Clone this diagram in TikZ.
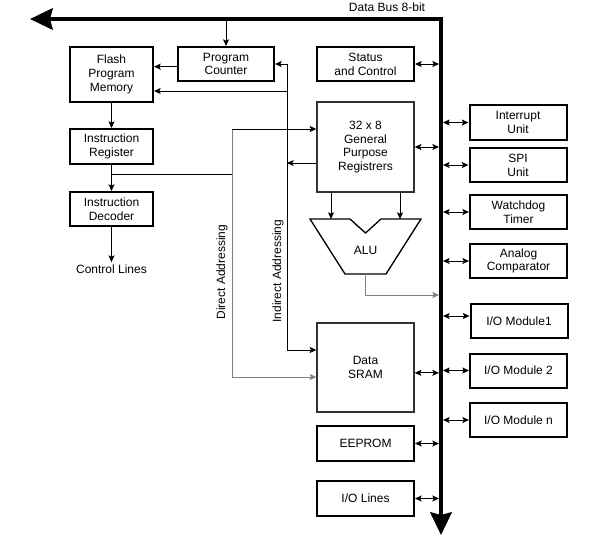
\documentclass[tikz,border=0pt]{standalone}
\usepackage{fontspec}
\setmainfont{Liberation Sans}
\usetikzlibrary{arrows.meta}

\tikzset{every picture/.style={line width=0.75pt}}
\tikzset{
  every node/.style={font=\fontsize{9}{10.3}\selectfont},
  blk/.style={draw, line width=1.5pt, inner sep=0pt, align=center, minimum width=72.75pt, minimum height=25.5pt},
  lblk/.style={blk, minimum width=62.25pt},
  regblk/.style={draw=black!80, line width=1pt, inner sep=0pt, align=center, minimum width=72.75pt},
  tip/.tip={Stealth[length=5pt,width=4.5pt,inset=1pt]},
  arr/.style={-tip},
  biarr/.style={tip-tip},
  gline/.style={draw=black!50},
  garr/.style={gline, -tip},
  bus/.style={line width=3pt, line join=miter, {Stealth[length=17pt,width=16pt,inset=2pt]}-{Stealth[length=17pt,width=16pt,inset=2pt]}}
}

\begin{document}
\begin{tikzpicture}[x=0.75pt,y=0.75pt,yscale=-1]
	\useasboundingbox (0,0) rectangle (591,544);

	%Data bus
	\coordinate (busL) at (30,19);
	\coordinate (busC) at (441,19);
	\coordinate (busB) at (441,535);
	\coordinate (busLE) at (439,19);
	\coordinate (busRE) at (443,19);
	\draw [bus] (busL) -- (busC) -- (busB);
	% Text Node
	\node (busLbl) at (387,7) {Data Bus 8-bit};

	%Left column
	\node [lblk, minimum height=41.25pt] (flash) at (111.5,74.5) {Flash\\Program\\Memory};
	\node [blk, minimum width=72pt] (pc) at (226,64) {Program\\Counter};
	\node [lblk, minimum height=26.25pt] (ir) at (111.5,146.5) {Instruction\\Register};
	\node [lblk] (idec) at (111.5,209) {Instruction\\Decoder};
	\node [inner sep=1.5pt] (ctl) at (111.5,269) {Control Lines};

	%Middle column
	\node [blk] (stat) at (365.5,64) {Status\\and Control};
	\node [regblk, minimum height=67.5pt] (gpr) at (365.5,147) {32 x 8\\General\\Purpose\\Registrers};
	\node [regblk, minimum height=66.75pt] (sram) at (365.5,367.5) {Data\\SRAM};
	\node [blk, minimum height=26.25pt] (eeprom) at (365.5,443.5) {EEPROM};
	\node [blk, minimum height=26.25pt] (iol) at (365.5,498.5) {I/O Lines};

	%Right column
	\node [blk, minimum height=26.25pt] (intr) at (518,122.5) {Interrupt\\Unit};
	\node [blk] (spi) at (518,165) {SPI\\Unit};
	\node [blk] (wdt) at (518.5,212) {Watchdog\\Timer};
	\node [blk] (anc) at (518.5,261) {Analog\\Comparator};
	\node [blk] (io1) at (519,321) {I/O Module1};
	\node [blk] (io2) at (518.5,370.5) {I/O Module 2};
	\node [blk] (ion) at (518.5,420) {I/O Module n};

	%Shape: ALU
	\coordinate (alu1) at (310,219);
	\coordinate (alu2) at (350,219);
	\coordinate (alu3) at (365.5,233);
	\coordinate (alu4) at (381,219);
	\coordinate (alu5) at (421,219);
	\coordinate (alu6) at (386,274);
	\coordinate (alu7) at (345,274);
	\draw [line width=1pt] (alu1) -- (alu2) -- (alu3) -- (alu4) -- (alu5) -- (alu6) -- (alu7) -- cycle;
	% Text Node
	\node (alu) at (365.5,250) {ALU};
	\coordinate (aluA) at (331,219);
	\coordinate (aluB) at (400,219);
	\draw [arr] (gpr.south -| aluA) -- (aluA);
	\draw [arr] (gpr.south -| aluB) -- (aluB);
	\coordinate (aluO) at (365.5,274);
	\coordinate (aluJ) at (365.5,295);
	\draw [garr] (aluO) -- (aluJ) -- (aluJ -| busLE);

	%Program flow
	\draw [arr] (pc.north |- busC) -- (pc.north);
	\draw [arr] ([yshift=2pt]pc.west) -- ([yshift=2pt]pc.west -| flash.east);
	\draw [arr] (flash.south) -- (ir.north);
	\draw [arr] (ir.south) -- (idec.north);
	\draw [arr] (idec.south) -- (ctl.north);

	%Direct addressing
	\coordinate (irJ) at (111.5,174);
	\coordinate (dirJ) at (232,174);
	\coordinate (dirT) at (232,129);
	\coordinate (dirB) at (232,377);
	\draw (irJ) -- (dirJ);
	\draw [gline] (dirT) -- (dirB);
	\draw [arr] (dirT) -- (dirT -| gpr.west);
	\draw [garr] (dirB) -- (dirB -| sram.west);
	% Text Node
	\node [rotate=90] (dirLbl) at (222,272) {Direct Addressing};

	%Indirect addressing
	\coordinate (indF) at (287,91);
	\coordinate (indB) at (287,350);
	\draw [arr] (indB) |- (pc.east);
	\draw [arr] (indF) -- (indF -| flash.east);
	\draw [arr] (indB) -- (indB -| sram.west);
	\draw [arr] ([yshift=12pt]gpr.west) -- ([yshift=12pt]gpr.west -| indB);
	% Text Node
	\node [rotate=90] (indLbl) at (278,271) {Indirect Addressing};

	%Bus links
	\foreach \b in {stat,gpr,eeprom,iol}
		\draw [biarr] (\b.east) -- (\b.east -| busLE);
	\draw [biarr] ([yshift=4pt]sram.east) -- ([yshift=4pt]sram.east -| busLE);
	\foreach \b in {intr,spi,wdt,anc,io2,ion}
		\draw [biarr] (\b.west -| busRE) -- (\b.west);
	\draw [biarr] ([yshift=-3.75pt]io1.west -| busRE) -- ([yshift=-3.75pt]io1.west);

\end{tikzpicture}
\end{document}
